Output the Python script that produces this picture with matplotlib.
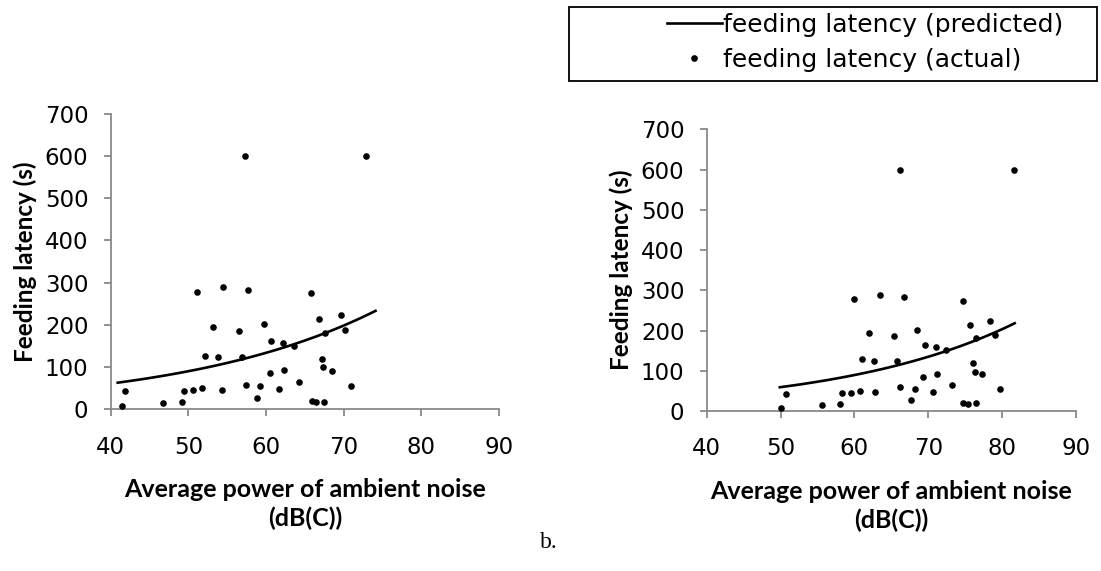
import numpy as np
import matplotlib.pyplot as plt
from matplotlib.lines import Line2D
from matplotlib.patches import Rectangle

plt.rcParams['font.family'] = ['DejaVu Sans']

# panel 1: noise measure vs feeding latency
noise_1 = [41.4, 41.9, 46.7, 49.2, 49.5, 50.6, 51.1, 51.8, 52.2, 53.2, 53.8,
           54.3, 54.5, 56.5, 56.9, 57.3, 57.4, 57.7, 58.8, 59.2, 59.7, 60.5,
           60.7, 61.7, 62.2, 62.3, 63.6, 64.3, 65.8, 65.9, 66.5, 66.8, 67.2,
           67.4, 67.5, 67.6, 68.5, 69.6, 70.2, 70.9, 72.9]
latency_1 = [8, 43, 14, 17, 43, 45, 278, 50, 127, 195, 124,
             46, 289, 185, 124, 600, 58, 283, 27, 56, 201, 86,
             162, 48, 158, 92, 151, 65, 275, 20, 18, 215, 120,
             99, 18, 181, 91, 224, 188, 56, 600]

# panel 2
noise_2 = [50.0, 50.8, 55.6, 58.0, 58.3, 59.5, 59.9, 60.7, 61.0, 62.0, 62.6,
           62.8, 63.4, 65.4, 65.8, 66.2, 66.2, 66.7, 67.7, 68.2, 68.5, 69.3,
           69.6, 70.6, 71.0, 71.2, 72.4, 73.2, 74.7, 74.7, 75.4, 75.7, 76.0,
           76.3, 76.4, 76.4, 77.3, 78.4, 79.1, 79.7, 81.6]
latency_2 = [8, 43, 15, 17, 44, 45, 278, 50, 128, 194, 124,
             47, 289, 186, 124, 59, 600, 283, 28, 55, 202, 85,
             163, 48, 158, 93, 151, 64, 274, 20, 17, 214, 120,
             98, 19, 182, 92, 224, 188, 55, 600]

# fitted log-linear model (intercept, slope, x range)
fit_1 = (2.532, 0.0394, 40.9, 74.1)
fit_2 = (2.027, 0.0411, 49.9, 81.7)

W, H = 1101, 571
fig = plt.figure(figsize=(W / 100, H / 100), dpi=100)

axes_px = [(110.7, 409.3, 499.0, 113.7), (706.7, 411.0, 1076.0, 129.3)]
panels = [(noise_1, latency_1, fit_1), (noise_2, latency_2, fit_2)]

grey = '#898989'
for (x0, y0, x1, y1), (nx, lat, fit) in zip(axes_px, panels):
    ax = fig.add_axes([x0 / W, 1 - y0 / H, (x1 - x0) / W, (y0 - y1) / H])
    b0, b1, lo, hi = fit
    xs = np.linspace(lo, hi, 100)
    ax.plot(xs, np.exp(b0 + b1 * xs), color='black', lw=1.9, zorder=2)
    ax.scatter(nx, lat, s=14, color='black', zorder=3, clip_on=False)
    ax.set_xlim(40, 90)
    ax.set_ylim(0, 700)
    ax.set_xticks(range(40, 91, 10))
    ax.set_yticks(range(0, 701, 100))
    for s in ['top', 'right']:
        ax.spines[s].set_visible(False)
    for s in ['left', 'bottom']:
        ax.spines[s].set_color(grey)
        ax.spines[s].set_linewidth(1.3)
    ax.tick_params(axis='both', direction='out', length=5, width=1.3,
                   color=grey, labelsize=16.5)
    ax.tick_params(axis='y', pad=11)
    ax.tick_params(axis='x', pad=14)
    ax.set_ylabel('Feeding latency (s)', family='Lato', fontsize=17.5,
                  fontweight='bold', labelpad=6)
    ax.set_xlabel('Average power of ambient noise\n(dB(C))', family='Lato',
                  fontsize=18, fontweight='bold', labelpad=14,
                  linespacing=1.3)

# legend box across the top right
fig.patches.append(Rectangle((569.3 / W, 1 - 80.7 / H), (1097 - 569.3) / W,
                             (80.7 - 6.7) / H, transform=fig.transFigure,
                             fill=False, edgecolor='black', lw=1.3))
handles = [Line2D([], [], color='black', lw=1.9),
           Line2D([], [], color='black', marker='o', ls='none', markersize=3.8)]
fig.legend(handles, ['feeding latency (predicted)', 'feeding latency (actual)'],
           loc='center left', bbox_to_anchor=(666.7 / W, 1 - 42.5 / H),
           frameon=False, fontsize=18, handlelength=2.2, handletextpad=0.05,
           borderpad=0, borderaxespad=0, labelspacing=0.45)

fig.text(549 / W, 1 - 543 / H, 'b.', family='Liberation Serif', fontsize=17,
         ha='center', va='center')

fig.savefig('out.png', dpi=100)
